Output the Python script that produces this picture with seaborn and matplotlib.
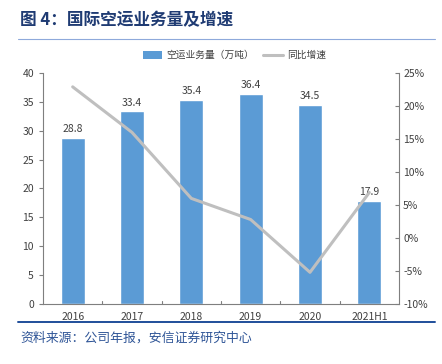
import seaborn as sns
import matplotlib.pyplot as plt
from matplotlib.lines import Line2D
from matplotlib.patches import Patch
from matplotlib.ticker import FuncFormatter, MultipleLocator

# 数据
years = ['2016', '2017', '2018', '2019', '2020', '2021H1']
volume = [28.8, 33.4, 35.4, 36.4, 34.5, 17.9]       # 空运业务量（万吨）
growth = [22.9, 16.0, 6.0, 2.8, -5.2, 6.9]          # 同比增速 (%)

sns.set_style('white')
plt.rcParams['font.family'] = ['Noto Sans CJK SC', 'DejaVu Sans']

fig = plt.figure(figsize=(4.42, 3.64), dpi=100)
ax = fig.add_axes([0.0973, 0.1648, 0.8054, 0.6347])

sns.barplot(x=years, y=volume, color='#5B9BD5', saturation=1, width=0.4, ax=ax)
for i, v in enumerate(volume):
    ax.text(i, v + 0.6, f'{v}', ha='center', va='bottom', fontsize=7.5, color='#404040')

ax.set_ylim(0, 40)
ax.yaxis.set_major_locator(MultipleLocator(5))
ax.set_xlim(-0.5, len(years) - 0.5)
ax.tick_params(axis='y', labelsize=7.5, colors='#7F7F7F', labelcolor='#404040',
               length=3, direction='out', width=0.8)
ax.tick_params(axis='x', labelsize=7.5, colors='#404040', length=0, pad=6)
for s in ['left', 'bottom']:
    ax.spines[s].set_color('#7F7F7F')
    ax.spines[s].set_linewidth(0.8)
ax.spines['top'].set_visible(False)
ax.spines['right'].set_visible(False)
# 分类之间的刻度
for k in range(1, len(years)):
    ax.plot([k - 0.5, k - 0.5], [0, 0.6], color='#7F7F7F', lw=0.8, clip_on=False)

ax2 = ax.twinx()
sns.lineplot(x=years, y=growth, color='#BFBFBF', linewidth=2.2, ax=ax2, sort=False)
ax2.set_ylim(-10, 25)
ax2.yaxis.set_major_locator(MultipleLocator(5))
ax2.yaxis.set_major_formatter(FuncFormatter(lambda v, p: f'{v:.0f}%'))
ax2.tick_params(axis='y', labelsize=7.5, colors='#7F7F7F', labelcolor='#404040',
                length=3, direction='in', width=0.8, pad=3)
ax2.spines['right'].set_color('#7F7F7F')
ax2.spines['right'].set_linewidth(0.8)
for s in ['top', 'left', 'bottom']:
    ax2.spines[s].set_visible(False)
ax2.set_ylabel('')

handles = [Patch(facecolor='#5B9BD5', edgecolor='none'),
           Line2D([0], [0], color='#BFBFBF', lw=2.2)]
fig.legend(handles, ['空运业务量（万吨）', '同比增速'], loc='center', ncol=2,
           bbox_to_anchor=(0.53, 0.848), frameon=False, fontsize=7,
           handlelength=2.0, handleheight=0.8, columnspacing=1.0, handletextpad=0.4,
           labelcolor='#404040')

# 标题与来源
fig.text(0.045, 0.945, '图 4：国际空运业务量及增速', fontsize=12, fontweight='bold',
         color='#1F3B73', va='center', ha='left')
fig.add_artist(Line2D([0.04, 0.985], [0.893, 0.893], color='#8EA9DB', lw=0.8))
fig.add_artist(Line2D([0.04, 0.985], [0.115, 0.115], color='#1F4E9A', lw=1.4))
fig.text(0.045, 0.072, '资料来源：公司年报，安信证券研究中心', fontsize=9.3, style='italic',
         color='#2F5597', va='center', ha='left')

fig.savefig('out.png', dpi=100)
